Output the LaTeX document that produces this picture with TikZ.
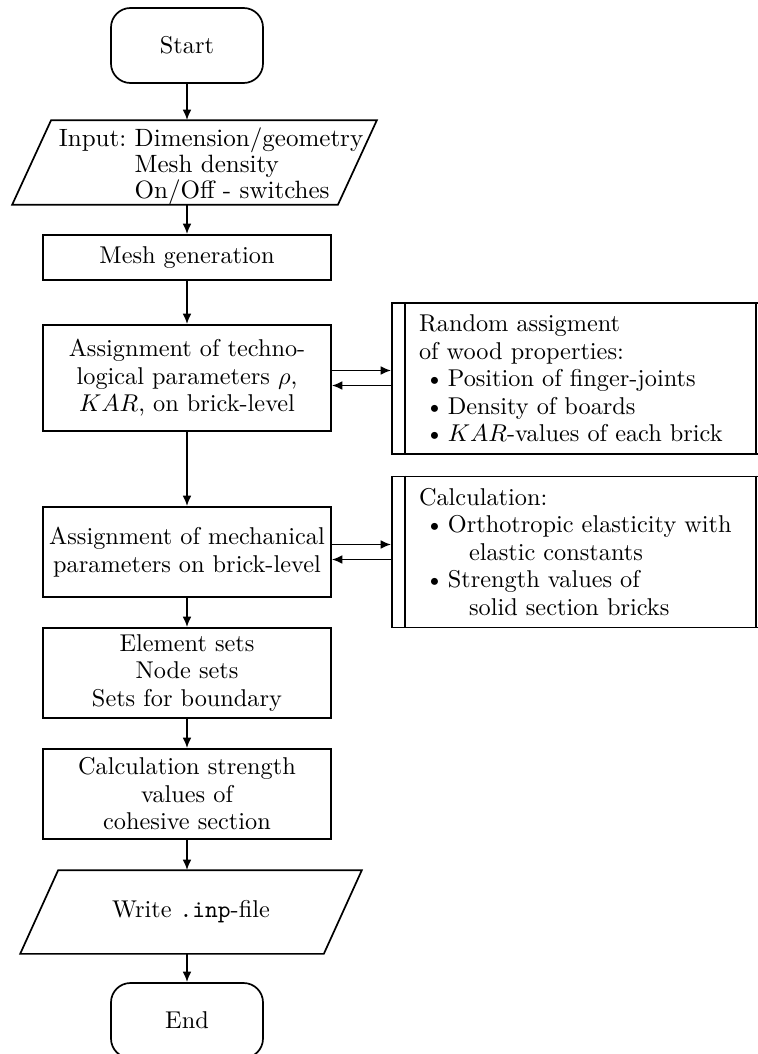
\documentclass[tikz,border=0pt]{standalone}
\usetikzlibrary{arrows.meta,calc}
\begin{document}
\begin{tikzpicture}[x=0.4115pt,y=-0.4115pt, line width=0.7pt,
  every node/.style={font=\fontsize{10pt}{11.3pt}\selectfont},
  arr/.style={-{Latex[length=4.3pt,width=3.6pt]}},
  term/.style={draw, rounded corners=8pt, minimum width=62.55pt, minimum height=30.86pt, inner sep=0pt},
  proc/.style={draw, minimum width=118.5pt, align=center, inner sep=0pt},
  iobox/.style={inner sep=0pt},
  sub/.style={draw, minimum width=155.1pt, text width=132.9pt, inner xsep=11.11pt, inner ysep=0pt, align=left, minimum height=62.14pt},
]
\useasboundingbox (0,0) rectangle (758,1054);

% main column
\node[term] (start) at (187,45.5) {Start};

\node[iobox, minimum width=149.4pt, minimum height=34.15pt] (input) at (194.5,162.5) {};
\draw (input.south west) -- ([xshift=16.05pt]input.north west) -- (input.north east)
      -- ([xshift=-16.05pt]input.south east) -- cycle;
\node[anchor=west, inner sep=0pt, align=left, font=\fontsize{10.3pt}{9.4pt}\selectfont] (inputtext) at (58,166)
  {Input:\ Dimension/geometry\\ \phantom{Input:\ }Mesh density\\ \phantom{Input:\ }On/Off - switches};

\node[proc, minimum height=18.52pt] (mesh) at (187,257.5) {Mesh generation};
\node[proc, minimum height=43.62pt] (tech) at (187,378)
  {Assignment of techno-\\logical parameters $\rho$,\\$KAR$, on brick-level};
\node[proc, minimum height=37.04pt] (mech) at (187,552)
  {Assignment of mechanical\\parameters on brick-level};
\node[proc, minimum height=37.04pt] (sets) at (187,673)
  {Element sets\\Node sets\\Sets for boundary};
\node[proc, minimum height=37.04pt] (calc) at (187,794)
  {Calculation strength\\values of\\cohesive section};

\node[iobox, minimum width=139.9pt, minimum height=33.74pt] (write) at (191,912) {Write \texttt{.inp}-file};
\draw (write.south west) -- ([xshift=15.64pt]write.north west) -- (write.north east)
      -- ([xshift=-15.64pt]write.south east) -- cycle;

\node[term] (end) at (187,1020.5) {End};

% side boxes
\node[sub] (r1) at (580.5,378.5)
  {Random assigment\\of wood properties:\\
   \hspace*{2.5pt}\textbullet\hspace{1.6pt}Position of finger-joints\\
   \hspace*{2.5pt}\textbullet\hspace{1.6pt}Density of boards\\
   \hspace*{2.5pt}\textbullet\hspace{1.6pt}$KAR$-values of each brick};
\draw ([xshift=5.76pt]r1.north west) -- ([xshift=5.76pt]r1.south west);
\draw ([xshift=-5.76pt]r1.north east) -- ([xshift=-5.76pt]r1.south east);

\node[sub] (r2) at (580.5,552)
  {Calculation:\\
   \hspace*{2.5pt}\textbullet\hspace{1.6pt}Orthotropic elasticity with\\
   \hspace*{20.6pt}elastic constants\\
   \hspace*{2.5pt}\textbullet\hspace{1.6pt}Strength values of\\
   \hspace*{20.6pt}solid section bricks};
\draw ([xshift=5.76pt]r2.north west) -- ([xshift=5.76pt]r2.south west);
\draw ([xshift=-5.76pt]r2.north east) -- ([xshift=-5.76pt]r2.south east);

% connectors
\draw[arr] (start.south) -- (start.south |- input.north);
\draw[arr] (input.south -| mesh.north) -- (mesh.north);
\draw[arr] (mesh) -- (tech);
\draw[arr] (tech) -- (mech);
\draw[arr] (mech) -- (sets);
\draw[arr] (sets) -- (calc);
\draw[arr] (calc.south) -- (calc.south |- write.north);
\draw[arr] (write.south -| end.north) -- (end.north);

\draw[arr] ([yshift=3.09pt]tech.east) -- ([yshift=3.09pt]tech.east -| r1.west);
\draw[arr] ([yshift=-3.09pt]tech.east -| r1.west) -- ([yshift=-3.09pt]tech.east);
\draw[arr] ([yshift=3.09pt]mech.east) -- ([yshift=3.09pt]mech.east -| r2.west);
\draw[arr] ([yshift=-3.09pt]mech.east -| r2.west) -- ([yshift=-3.09pt]mech.east);
\end{tikzpicture}
\end{document}
